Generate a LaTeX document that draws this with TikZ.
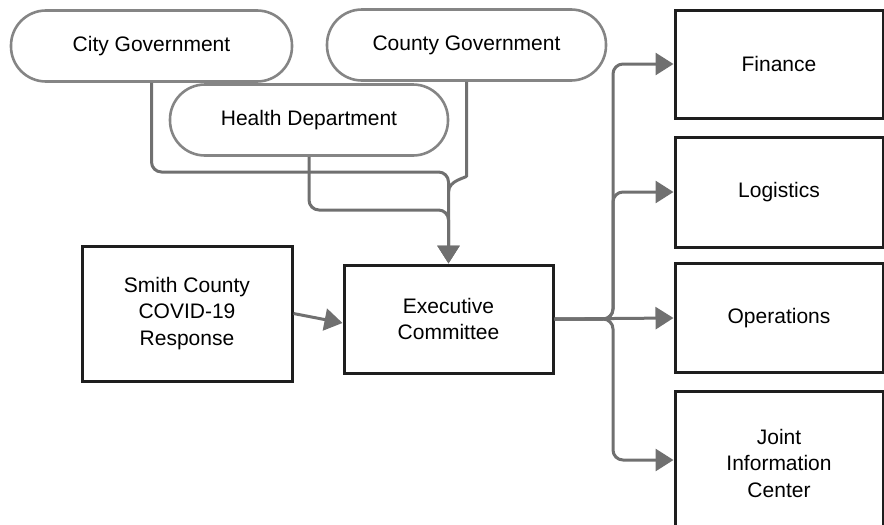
\documentclass[tikz,border=0pt]{standalone}
\usepackage{fontspec}
\setmainfont{Liberation Sans}
\usetikzlibrary{arrows.meta,calc}
\definecolor{conncol}{HTML}{707070}
\definecolor{pillcol}{HTML}{858585}
\definecolor{boxcol}{HTML}{1E1E1E}
\begin{document}
\begin{tikzpicture}[x=1pt,y=-1pt,
  every node/.style={font=\fontsize{21}{26.5}\selectfont, align=center, inner sep=0pt},
  pill/.style={draw=pillcol, line width=2.6pt, fill=white, rounded corners=35pt, minimum height=71pt},
  sqbox/.style={draw=boxcol, line width=3pt, fill=white, minimum width=208pt},
  conn/.style={draw=conncol, line width=3pt, rounded corners=10pt, -{Triangle[length=18pt,width=22pt]}},
  connplain/.style={draw=conncol, line width=3pt, rounded corners=10pt}]
\useasboundingbox (0,0) rectangle (884,525);
\begin{scope}
\clip (0,0) rectangle (884,525);
% pills
\node[pill, minimum width=281pt] (city) at (151.5,46) {City Government};
\node[pill, minimum width=279pt] (county) at (466.5,45) {County Government};
% boxes
\node[sqbox, minimum width=210pt, minimum height=135pt] (smith) at (187,313.5) {Smith County\\COVID-19\\Response};
\node[sqbox, minimum width=209pt, minimum height=108pt] (exec) at (448.5,319) {Executive\\Committee};
\node[sqbox, minimum height=108pt] (fin) at (779,64) {Finance};
\node[sqbox, minimum height=110pt] (log) at (779,192) {Logistics};
\node[sqbox, minimum height=109pt] (ops) at (779,318) {Operations};
\node[sqbox, minimum height=144pt] (jic) at (779,463) {Joint\\Information\\Center};
% connectors into executive committee
\draw[conn] (city.south) -- (151.5,172) -- (448.5,172) -- (exec.north);
\draw[connplain] (county.south) -- (466.5,166) .. controls (466.5,178) and (448.5,180) .. (448.5,192);
\node[pill, minimum width=278pt] (health) at (309,120) {Health Department};
\draw[conn] (health.south) -- (309,210) -- (448.5,210) -- (exec.north);
\draw[conn] (smith.east) -- ($(exec.west)+(0,4)$);
% connectors out of executive committee
\coordinate (trunk) at (613,319);
\draw[conn] (exec.east) -- (trunk) |- (fin.west);
\draw[conn] (exec.east) -- (trunk) |- (log.west);
\draw[conn] (exec.east) -- (ops.west);
\draw[conn] (exec.east) -- (trunk) |- ($(jic.west)+(0,-3)$);
\end{scope}
\end{tikzpicture}
\end{document}
